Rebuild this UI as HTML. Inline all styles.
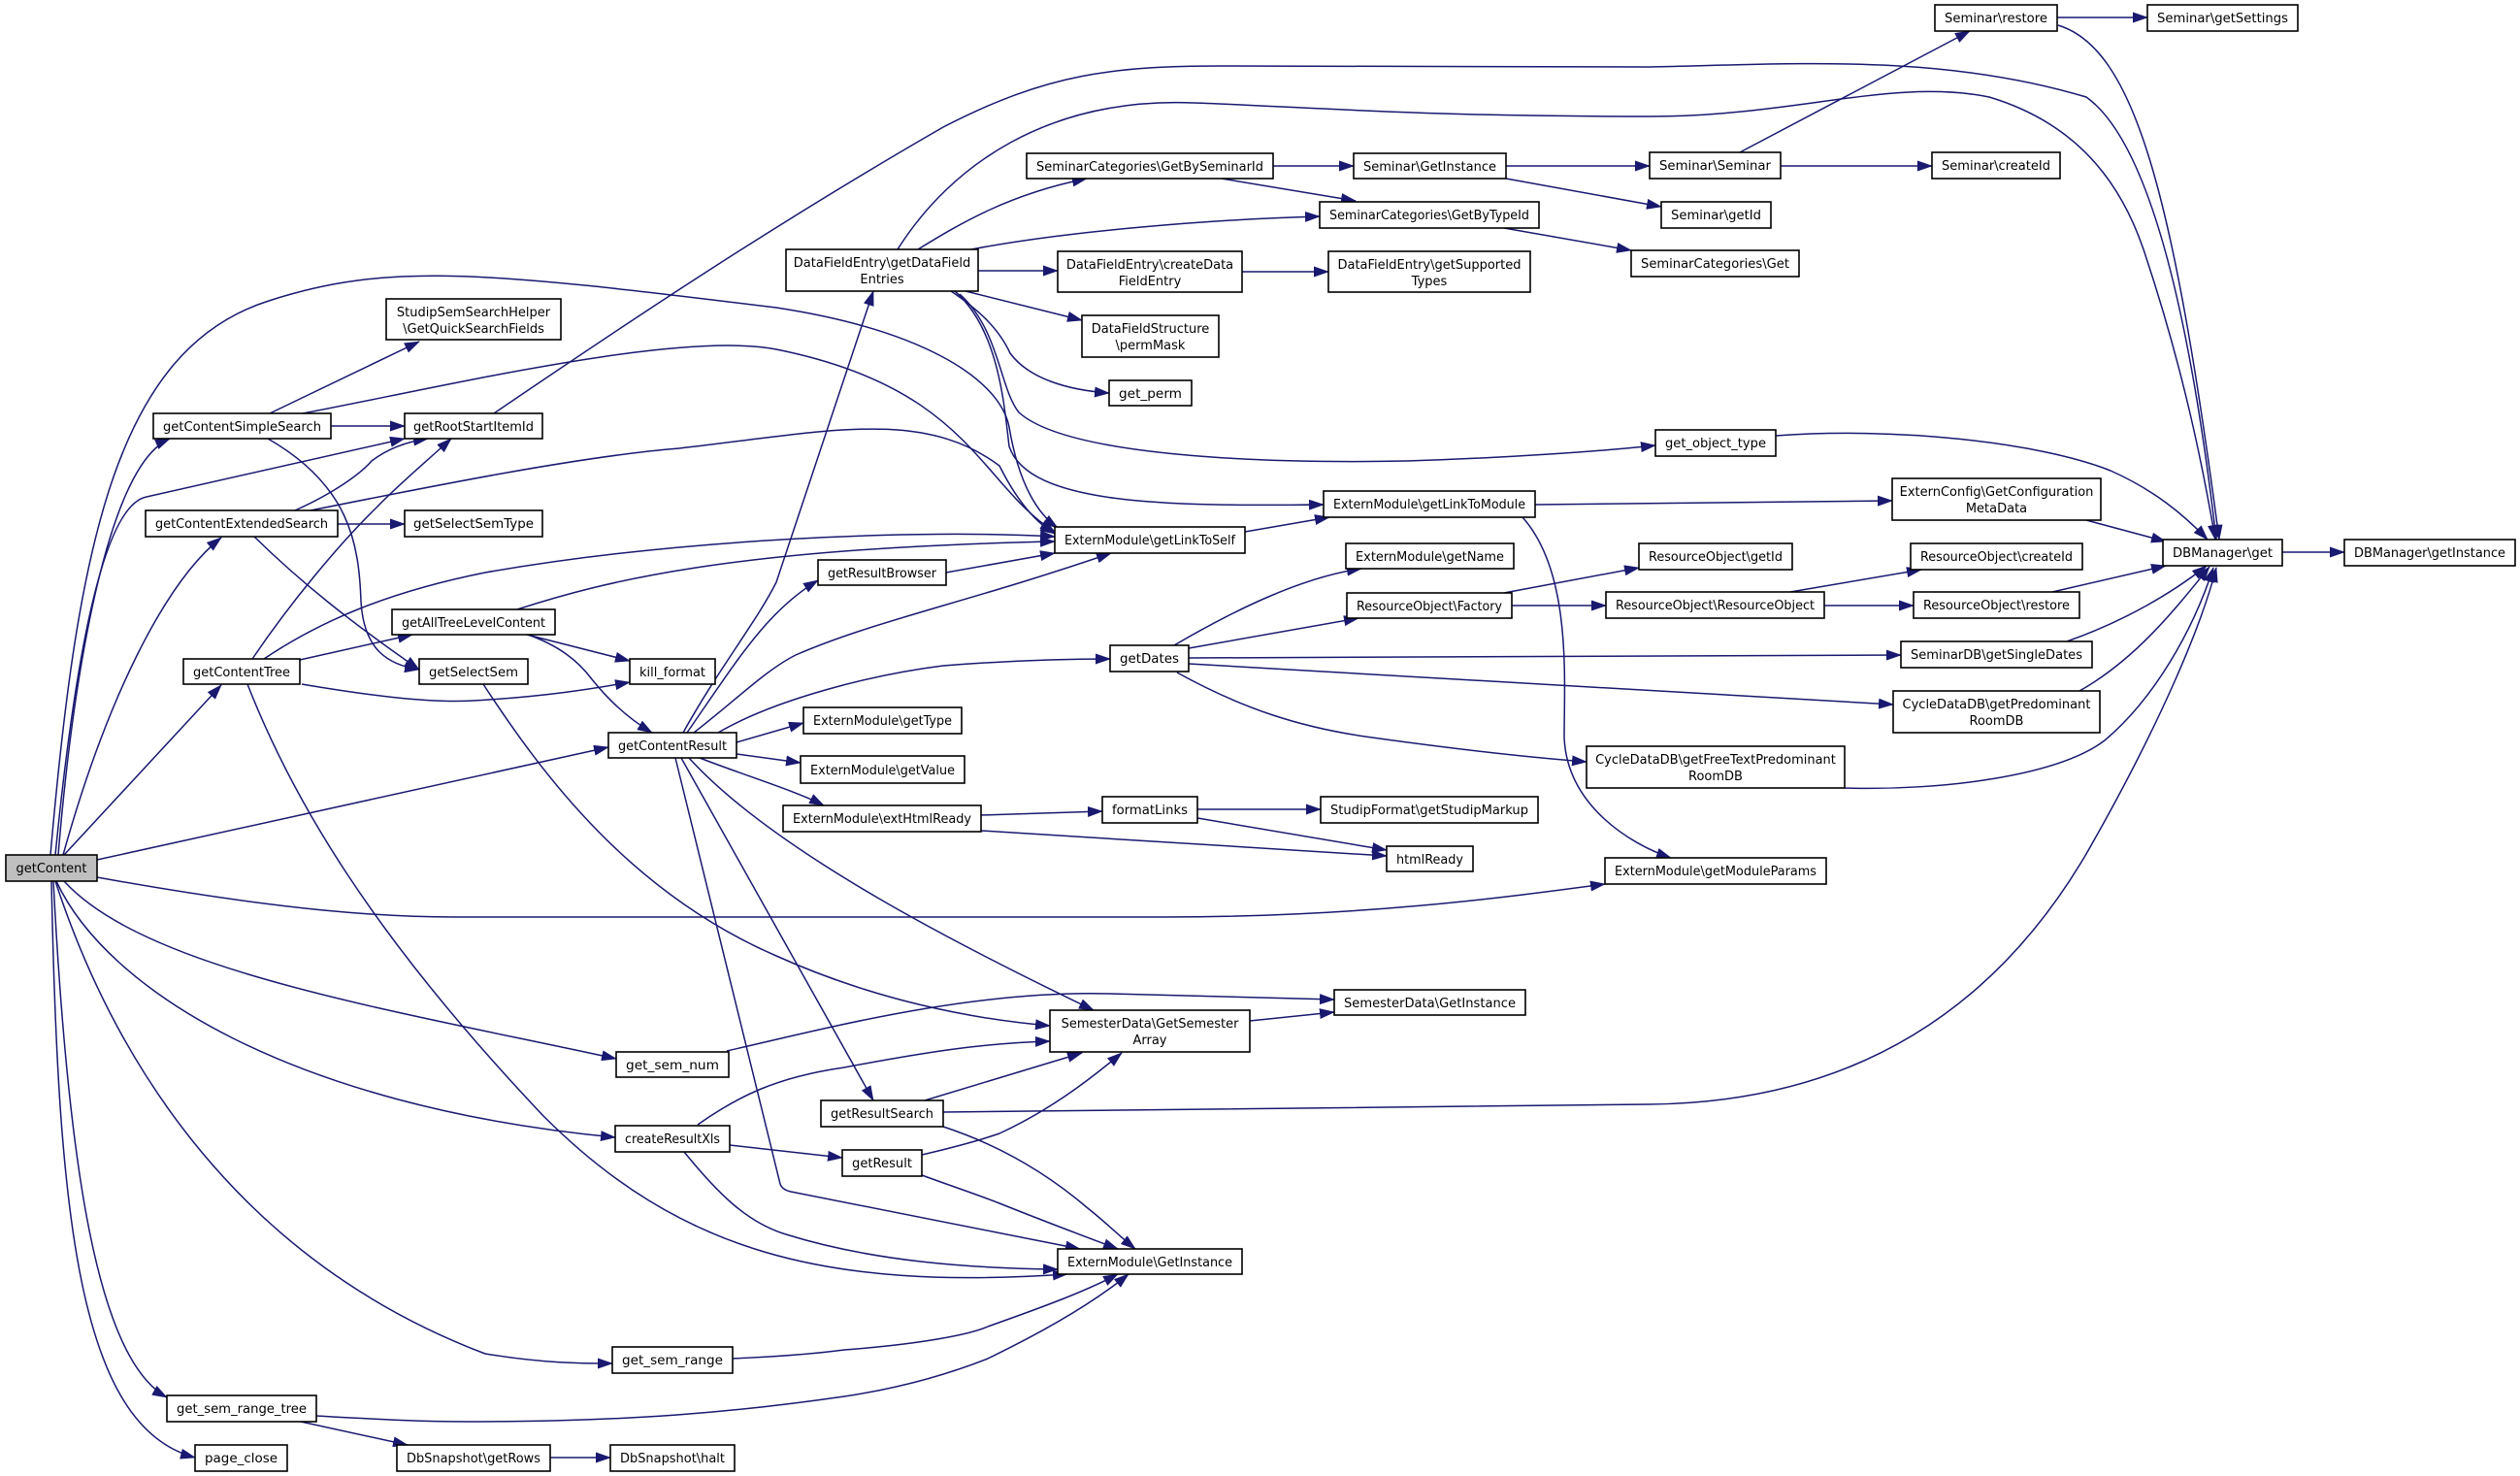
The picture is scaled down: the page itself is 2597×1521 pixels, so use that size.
<!DOCTYPE html>
<html><head><meta charset="utf-8"><style>
html,body{margin:0;padding:0;background:#fff;}
svg{display:block;}
text{font-family:"DejaVu Sans","Liberation Sans",sans-serif;font-size:13px;fill:#000;}
.n{fill:#fff;stroke:#000;stroke-width:1.6;}
.e{fill:none;stroke:#191970;stroke-width:1.5;marker-end:url(#a);}
</style></head><body>
<svg width="2597" height="1521" viewBox="0 0 2597 1521" xmlns="http://www.w3.org/2000/svg">
<defs><marker id="a" markerWidth="16" markerHeight="11" refX="15" refY="5.5" orient="auto" markerUnits="userSpaceOnUse"><path d="M0,0 L16,5.5 L0,11 z" fill="#191970"/></marker></defs>
<g>
<!-- getContent edges -->
<path class="e" d="M60,881 C75,700 110,480 175,452"/>
<path class="e" d="M57,881 C80,650 110,520 151,512 L417,452"/>
<path class="e" d="M65,881 C110,720 170,600 228,554"/>
<path class="e" d="M66,881 L228,706"/>
<path class="e" d="M52,881 C80,560 120,360 277,310 C400,270 500,280 800,317 C950,340 1030,390 1040,440 C1050,500 1070,530 1090,544"/>
<path class="e" d="M100,886 L627,770"/>
<path class="e" d="M100,904 C300,940 400,945 470,945 L1200,945 C1400,945 1550,925 1654,911"/>
<path class="e" d="M66,908 C150,1000 400,1040 635,1091"/>
<path class="e" d="M58,908 C110,1020 300,1140 634,1172"/>
<path class="e" d="M57,908 C120,1100 250,1300 500,1395 C560,1405 600,1405 631,1405"/>
<path class="e" d="M55,908 C70,1200 100,1400 172,1440"/>
<path class="e" d="M53,908 C60,1250 80,1470 201,1502"/>
<!-- getContentSimpleSearch -->
<path class="e" d="M278,426 L432,352"/>
<path class="e" d="M341,439 L417,439"/>
<path class="e" d="M312,426 C450,400 700,340 800,360 C1000,400 1010,500 1087,548"/>
<path class="e" d="M276,452 C360,500 370,560 372,620 C375,670 400,685 432,690"/>
<!-- getContentExtendedSearch -->
<path class="e" d="M304,526 C340,510 370,490 383,475 C400,462 420,455 441,452"/>
<path class="e" d="M348,540 L417,540"/>
<path class="e" d="M320,526 C450,500 600,470 700,462 C850,445 950,420 1030,480 C1050,520 1070,540 1087,550"/>
<path class="e" d="M262,553 C310,600 360,640 432,690"/>
<!-- getContentTree -->
<path class="e" d="M260,679 C300,620 350,560 388,523 C410,500 440,475 465,452"/>
<path class="e" d="M309,680 L425,654"/>
<path class="e" d="M311,705 C370,715 440,725 488,722 C560,718 610,710 649,703"/>
<path class="e" d="M272,679 C330,640 400,610 500,590 C700,555 950,545 1087,553"/>
<path class="e" d="M255,705 C300,820 380,960 560,1150 C700,1290 850,1330 1100,1313"/>
<!-- getAllTreeLevelContent / getSelectSem -->
<path class="e" d="M533,628 C620,600 750,565 1087,558"/>
<path class="e" d="M543,654 L649,681"/>
<path class="e" d="M544,654 C575,665 595,680 610,700 C630,725 650,742 672,755"/>
<path class="e" d="M498,705 C560,800 650,920 800,985 C900,1030 1000,1050 1082,1057"/>
<!-- getContentResult -->
<path class="e" d="M704,755 C740,690 780,640 800,600 L900,300"/>
<path class="e" d="M708,755 C760,680 790,630 843,598"/>
<path class="e" d="M715,755 C760,720 790,690 820,675 C900,640 1000,620 1145,570"/>
<path class="e" d="M740,755 C800,720 900,695 972,686 C1050,680 1100,679 1144,679"/>
<path class="e" d="M759,765 L828,745"/>
<path class="e" d="M759,777 L825,786"/>
<path class="e" d="M721,781 C770,800 820,815 849,830"/>
<path class="e" d="M710,781 C800,880 1000,980 1127,1041"/>
<path class="e" d="M702,781 L900,1134"/>
<path class="e" d="M696,781 L804,1220 Q806,1226 815,1228 L1113,1287"/>
<path class="e" d="M975,590 L1087,570"/>
<!-- DataFieldEntry -->
<path class="e" d="M925,257 C980,170 1080,100 1230,106 C1350,110 1450,120 1700,120 C1850,120 1950,80 2050,100 C2150,130 2190,200 2210,260 C2250,380 2270,480 2283,556"/>
<path class="e" d="M946,257 C990,230 1040,200 1120,184"/>
<path class="e" d="M1001,257 C1100,238 1250,226 1360,223"/>
<path class="e" d="M1008,279 L1090,279"/>
<path class="e" d="M995,300 L1115,330"/>
<path class="e" d="M980,300 C1010,320 1030,340 1041,364 C1060,390 1100,402 1143,405"/>
<path class="e" d="M989,303 C1030,340 1030,400 1050,425 C1100,470 1300,478 1450,475 C1550,472 1650,465 1706,459"/>
<path class="e" d="M984,300 C1030,340 1035,420 1040,460 C1060,520 1200,522 1364,520"/>
<path class="e" d="M509,426 C650,330 800,230 972,131 C1080,75 1150,68 1260,68 L1700,69 C1850,66 2000,55 2150,100 C2220,150 2260,350 2284,556"/>
<!-- Seminar -->
<path class="e" d="M1312,171 L1395,171"/>
<path class="e" d="M1259,184 L1397,207"/>
<path class="e" d="M1552,171 L1700,171"/>
<path class="e" d="M1552,184 L1712,213"/>
<path class="e" d="M1550,235 L1681,258"/>
<path class="e" d="M1793,157 L2030,32"/>
<path class="e" d="M1835,171 L1991,171"/>
<path class="e" d="M2120,18 L2213,18"/>
<path class="e" d="M2121,26 C2200,50 2240,200 2287,556"/>
<path class="e" d="M1280,280 L1369,280"/>
<path class="e" d="M1283,548 L1370,533"/>
<path class="e" d="M1582,520 L1950,516"/>
<path class="e" d="M1569,533 C1620,590 1612,700 1612,760 C1615,830 1680,870 1722,884"/>
<path class="e" d="M1830,449 C1950,440 2100,455 2175,485 C2220,505 2250,530 2275,556"/>
<path class="e" d="M2150,536 L2232,558"/>
<!-- getDates -->
<path class="e" d="M1210,665 C1270,630 1340,595 1403,586"/>
<path class="e" d="M1225,668 L1400,637"/>
<path class="e" d="M1225,678 L1959,675"/>
<path class="e" d="M1225,684 L1951,726"/>
<path class="e" d="M1213,693 C1280,730 1340,750 1414,760 C1500,772 1570,780 1635,785"/>
<path class="e" d="M1550,611 L1689,585"/>
<path class="e" d="M1558,624 L1655,624"/>
<path class="e" d="M1845,610 L1980,587"/>
<path class="e" d="M1880,624 L1972,624"/>
<path class="e" d="M2115,610 L2232,583"/>
<path class="e" d="M2130,661 C2190,640 2240,610 2274,583"/>
<path class="e" d="M2143,712 C2200,680 2240,630 2277,584"/>
<path class="e" d="M1901,812 C2000,815 2120,800 2169,763 C2220,720 2260,650 2281,585"/>
<path class="e" d="M972,1146 L1700,1138 C1900,1136 2050,1050 2150,880 C2230,740 2270,640 2284,585"/>
<path class="e" d="M2352,569 L2416,569"/>
<!-- extHtmlReady etc -->
<path class="e" d="M1011,840 L1136,836"/>
<path class="e" d="M1011,856 L1429,882"/>
<path class="e" d="M1234,834 L1361,834"/>
<path class="e" d="M1234,843 L1429,876"/>
<path class="e" d="M749,1083 C850,1060 1000,1020 1144,1024 L1375,1030"/>
<path class="e" d="M719,1159 C760,1130 800,1110 870,1100 C950,1085 1010,1075 1082,1073"/>
<path class="e" d="M752,1180 L868,1193"/>
<path class="e" d="M705,1187 C740,1230 770,1260 810,1272 C900,1300 1000,1307 1090,1308"/>
<path class="e" d="M953,1134 L1115,1085"/>
<path class="e" d="M972,1161 C1030,1180 1080,1210 1121,1245 C1140,1260 1155,1275 1170,1287"/>
<path class="e" d="M950,1190 C980,1183 1010,1175 1030,1168 C1080,1145 1120,1115 1156,1085"/>
<path class="e" d="M950,1211 C980,1222 1010,1232 1030,1240 C1080,1260 1120,1275 1152,1287"/>
<path class="e" d="M1288,1052 L1375,1043"/>
<path class="e" d="M755,1400 C800,1398 840,1395 870,1391 C950,1385 1000,1375 1018,1367 C1080,1345 1120,1330 1152,1313"/>
<path class="e" d="M326,1459 C380,1462 430,1465 483,1465 C650,1465 760,1455 870,1439 C930,1430 980,1415 1018,1400 C1080,1370 1130,1340 1163,1313"/>
<path class="e" d="M310,1465 L420,1489"/>
<path class="e" d="M567,1502 L629,1502"/>
</g>
<g>
<rect x="6" y="881" width="94" height="27" style="fill:#bfbfbf;stroke:#000;stroke-width:1.6"/><text x="53" y="899" text-anchor="middle">getContent</text>
<rect class="n" x="158" y="426" width="183" height="26"/><text x="249.5" y="444" text-anchor="middle" textLength="163" lengthAdjust="spacingAndGlyphs">getContentSimpleSearch</text>
<rect class="n" x="417" y="426" width="142" height="26"/><text x="488" y="444" text-anchor="middle" textLength="124" lengthAdjust="spacingAndGlyphs">getRootStartItemId</text>
<rect class="n" x="398" y="308" width="180" height="42"/><text x="488" y="326" text-anchor="middle">StudipSemSearchHelper</text><text x="488" y="343" text-anchor="middle">\GetQuickSearchFields</text>
<rect class="n" x="150" y="526" width="198" height="27"/><text x="249" y="544" text-anchor="middle" textLength="178" lengthAdjust="spacingAndGlyphs">getContentExtendedSearch</text>
<rect class="n" x="417" y="526" width="142" height="27"/><text x="488" y="544" text-anchor="middle" textLength="124" lengthAdjust="spacingAndGlyphs">getSelectSemType</text>
<rect class="n" x="404" y="628" width="168" height="26"/><text x="488" y="646" text-anchor="middle" textLength="148" lengthAdjust="spacingAndGlyphs">getAllTreeLevelContent</text>
<rect class="n" x="189" y="679" width="120" height="26"/><text x="249" y="697" text-anchor="middle" textLength="100" lengthAdjust="spacingAndGlyphs">getContentTree</text>
<rect class="n" x="432" y="679" width="112" height="26"/><text x="488" y="697" text-anchor="middle" textLength="92" lengthAdjust="spacingAndGlyphs">getSelectSem</text>
<rect class="n" x="649" y="679" width="88" height="26"/><text x="693" y="697" text-anchor="middle" textLength="68" lengthAdjust="spacingAndGlyphs">kill_format</text>
<rect class="n" x="627" y="755" width="132" height="26"/><text x="693" y="773" text-anchor="middle" textLength="112" lengthAdjust="spacingAndGlyphs">getContentResult</text>
<rect class="n" x="635" y="1084" width="116" height="26"/><text x="693" y="1102" text-anchor="middle" textLength="96" lengthAdjust="spacingAndGlyphs">get_sem_num</text>
<rect class="n" x="634" y="1160" width="118" height="27"/><text x="693" y="1178" text-anchor="middle" textLength="98" lengthAdjust="spacingAndGlyphs">createResultXls</text>
<rect class="n" x="631" y="1388" width="124" height="27"/><text x="693" y="1406" text-anchor="middle" textLength="104" lengthAdjust="spacingAndGlyphs">get_sem_range</text>
<rect class="n" x="172" y="1438" width="154" height="27"/><text x="249" y="1456" text-anchor="middle" textLength="134" lengthAdjust="spacingAndGlyphs">get_sem_range_tree</text>
<rect class="n" x="201" y="1489" width="95" height="27"/><text x="248.5" y="1507" text-anchor="middle" textLength="75" lengthAdjust="spacingAndGlyphs">page_close</text>
<rect class="n" x="409" y="1489" width="158" height="27"/><text x="488" y="1507" text-anchor="middle" textLength="138" lengthAdjust="spacingAndGlyphs">DbSnapshot\getRows</text>
<rect class="n" x="629" y="1489" width="128" height="27"/><text x="693" y="1507" text-anchor="middle" textLength="108" lengthAdjust="spacingAndGlyphs">DbSnapshot\halt</text>
<rect class="n" x="810" y="257" width="198" height="43"/><text x="909" y="275" text-anchor="middle">DataFieldEntry\getDataField</text><text x="909" y="292" text-anchor="middle">Entries</text>
<rect class="n" x="1058" y="158" width="254" height="26"/><text x="1185" y="176" text-anchor="middle" textLength="234" lengthAdjust="spacingAndGlyphs">SeminarCategories\GetBySeminarId</text>
<rect class="n" x="1395" y="158" width="157" height="26"/><text x="1473.5" y="176" text-anchor="middle" textLength="137" lengthAdjust="spacingAndGlyphs">Seminar\GetInstance</text>
<rect class="n" x="1360" y="208" width="226" height="27"/><text x="1473" y="226" text-anchor="middle" textLength="206" lengthAdjust="spacingAndGlyphs">SeminarCategories\GetByTypeId</text>
<rect class="n" x="1090" y="259" width="190" height="42"/><text x="1185" y="277" text-anchor="middle">DataFieldEntry\createData</text><text x="1185" y="294" text-anchor="middle">FieldEntry</text>
<rect class="n" x="1369" y="259" width="208" height="42"/><text x="1473" y="277" text-anchor="middle">DataFieldEntry\getSupported</text><text x="1473" y="294" text-anchor="middle">Types</text>
<rect class="n" x="1115" y="325" width="141" height="43"/><text x="1185.5" y="343" text-anchor="middle">DataFieldStructure</text><text x="1185.5" y="360" text-anchor="middle">\permMask</text>
<rect class="n" x="1143" y="392" width="85" height="26"/><text x="1185.5" y="410" text-anchor="middle" textLength="65" lengthAdjust="spacingAndGlyphs">get_perm</text>
<rect class="n" x="1364" y="506" width="218" height="27"/><text x="1473" y="524" text-anchor="middle" textLength="198" lengthAdjust="spacingAndGlyphs">ExternModule\getLinkToModule</text>
<rect class="n" x="1087" y="543" width="196" height="27"/><text x="1185" y="561" text-anchor="middle" textLength="176" lengthAdjust="spacingAndGlyphs">ExternModule\getLinkToSelf</text>
<rect class="n" x="843" y="577" width="132" height="26"/><text x="909" y="595" text-anchor="middle" textLength="112" lengthAdjust="spacingAndGlyphs">getResultBrowser</text>
<rect class="n" x="1387" y="560" width="173" height="26"/><text x="1473.5" y="578" text-anchor="middle" textLength="153" lengthAdjust="spacingAndGlyphs">ExternModule\getName</text>
<rect class="n" x="1388" y="611" width="170" height="26"/><text x="1473" y="629" text-anchor="middle" textLength="150" lengthAdjust="spacingAndGlyphs">ResourceObject\Factory</text>
<rect class="n" x="1144" y="665" width="81" height="27"/><text x="1184.5" y="683" text-anchor="middle" textLength="61" lengthAdjust="spacingAndGlyphs">getDates</text>
<rect class="n" x="828" y="729" width="163" height="27"/><text x="909.5" y="747" text-anchor="middle" textLength="143" lengthAdjust="spacingAndGlyphs">ExternModule\getType</text>
<rect class="n" x="825" y="779" width="169" height="28"/><text x="909.5" y="798" text-anchor="middle" textLength="149" lengthAdjust="spacingAndGlyphs">ExternModule\getValue</text>
<rect class="n" x="807" y="830" width="204" height="27"/><text x="909" y="848" text-anchor="middle" textLength="184" lengthAdjust="spacingAndGlyphs">ExternModule\extHtmlReady</text>
<rect class="n" x="1136" y="821" width="98" height="27"/><text x="1185" y="839" text-anchor="middle" textLength="78" lengthAdjust="spacingAndGlyphs">formatLinks</text>
<rect class="n" x="1361" y="821" width="224" height="27"/><text x="1473" y="839" text-anchor="middle" textLength="204" lengthAdjust="spacingAndGlyphs">StudipFormat\getStudipMarkup</text>
<rect class="n" x="1429" y="872" width="89" height="26"/><text x="1473.5" y="890" text-anchor="middle" textLength="69" lengthAdjust="spacingAndGlyphs">htmlReady</text>
<rect class="n" x="1375" y="1020" width="197" height="26"/><text x="1473.5" y="1038" text-anchor="middle" textLength="177" lengthAdjust="spacingAndGlyphs">SemesterData\GetInstance</text>
<rect class="n" x="1082" y="1041" width="206" height="43"/><text x="1185" y="1059" text-anchor="middle">SemesterData\GetSemester</text><text x="1185" y="1076" text-anchor="middle">Array</text>
<rect class="n" x="846" y="1134" width="126" height="27"/><text x="909" y="1152" text-anchor="middle" textLength="106" lengthAdjust="spacingAndGlyphs">getResultSearch</text>
<rect class="n" x="868" y="1185" width="82" height="27"/><text x="909" y="1203" text-anchor="middle" textLength="62" lengthAdjust="spacingAndGlyphs">getResult</text>
<rect class="n" x="1090" y="1287" width="190" height="26"/><text x="1185" y="1305" text-anchor="middle" textLength="170" lengthAdjust="spacingAndGlyphs">ExternModule\GetInstance</text>
<rect class="n" x="1994" y="5" width="126" height="27"/><text x="2057" y="23" text-anchor="middle" textLength="106" lengthAdjust="spacingAndGlyphs">Seminar\restore</text>
<rect class="n" x="2213" y="5" width="155" height="27"/><text x="2290.5" y="23" text-anchor="middle" textLength="135" lengthAdjust="spacingAndGlyphs">Seminar\getSettings</text>
<rect class="n" x="1700" y="157" width="135" height="27"/><text x="1767.5" y="175" text-anchor="middle" textLength="115" lengthAdjust="spacingAndGlyphs">Seminar\Seminar</text>
<rect class="n" x="1991" y="157" width="132" height="27"/><text x="2057" y="175" text-anchor="middle" textLength="112" lengthAdjust="spacingAndGlyphs">Seminar\createId</text>
<rect class="n" x="1712" y="208" width="113" height="27"/><text x="1768.5" y="226" text-anchor="middle" textLength="93" lengthAdjust="spacingAndGlyphs">Seminar\getId</text>
<rect class="n" x="1681" y="258" width="173" height="27"/><text x="1767.5" y="276" text-anchor="middle" textLength="153" lengthAdjust="spacingAndGlyphs">SeminarCategories\Get</text>
<rect class="n" x="1706" y="443" width="124" height="27"/><text x="1768" y="461" text-anchor="middle" textLength="104" lengthAdjust="spacingAndGlyphs">get_object_type</text>
<rect class="n" x="1950" y="493" width="215" height="43"/><text x="2057.5" y="511" text-anchor="middle">ExternConfig\GetConfiguration</text><text x="2057.5" y="528" text-anchor="middle">MetaData</text>
<rect class="n" x="2229" y="556" width="123" height="27"/><text x="2290.5" y="574" text-anchor="middle" textLength="103" lengthAdjust="spacingAndGlyphs">DBManager\get</text>
<rect class="n" x="2416" y="556" width="176" height="27"/><text x="2504" y="574" text-anchor="middle" textLength="156" lengthAdjust="spacingAndGlyphs">DBManager\getInstance</text>
<rect class="n" x="1689" y="560" width="158" height="27"/><text x="1768" y="578" text-anchor="middle" textLength="138" lengthAdjust="spacingAndGlyphs">ResourceObject\getId</text>
<rect class="n" x="1969" y="560" width="177" height="27"/><text x="2057.5" y="578" text-anchor="middle" textLength="157" lengthAdjust="spacingAndGlyphs">ResourceObject\createId</text>
<rect class="n" x="1655" y="610" width="225" height="27"/><text x="1767.5" y="628" text-anchor="middle" textLength="205" lengthAdjust="spacingAndGlyphs">ResourceObject\ResourceObject</text>
<rect class="n" x="1972" y="610" width="171" height="27"/><text x="2057.5" y="628" text-anchor="middle" textLength="151" lengthAdjust="spacingAndGlyphs">ResourceObject\restore</text>
<rect class="n" x="1959" y="661" width="197" height="27"/><text x="2057.5" y="679" text-anchor="middle" textLength="177" lengthAdjust="spacingAndGlyphs">SeminarDB\getSingleDates</text>
<rect class="n" x="1951" y="712" width="213" height="43"/><text x="2057.5" y="730" text-anchor="middle">CycleDataDB\getPredominant</text><text x="2057.5" y="747" text-anchor="middle">RoomDB</text>
<rect class="n" x="1635" y="769" width="266" height="43"/><text x="1768" y="787" text-anchor="middle">CycleDataDB\getFreeTextPredominant</text><text x="1768" y="804" text-anchor="middle">RoomDB</text>
<rect class="n" x="1654" y="884" width="228" height="27"/><text x="1768" y="902" text-anchor="middle" textLength="208" lengthAdjust="spacingAndGlyphs">ExternModule\getModuleParams</text>
</g>
</svg>
</body></html>
